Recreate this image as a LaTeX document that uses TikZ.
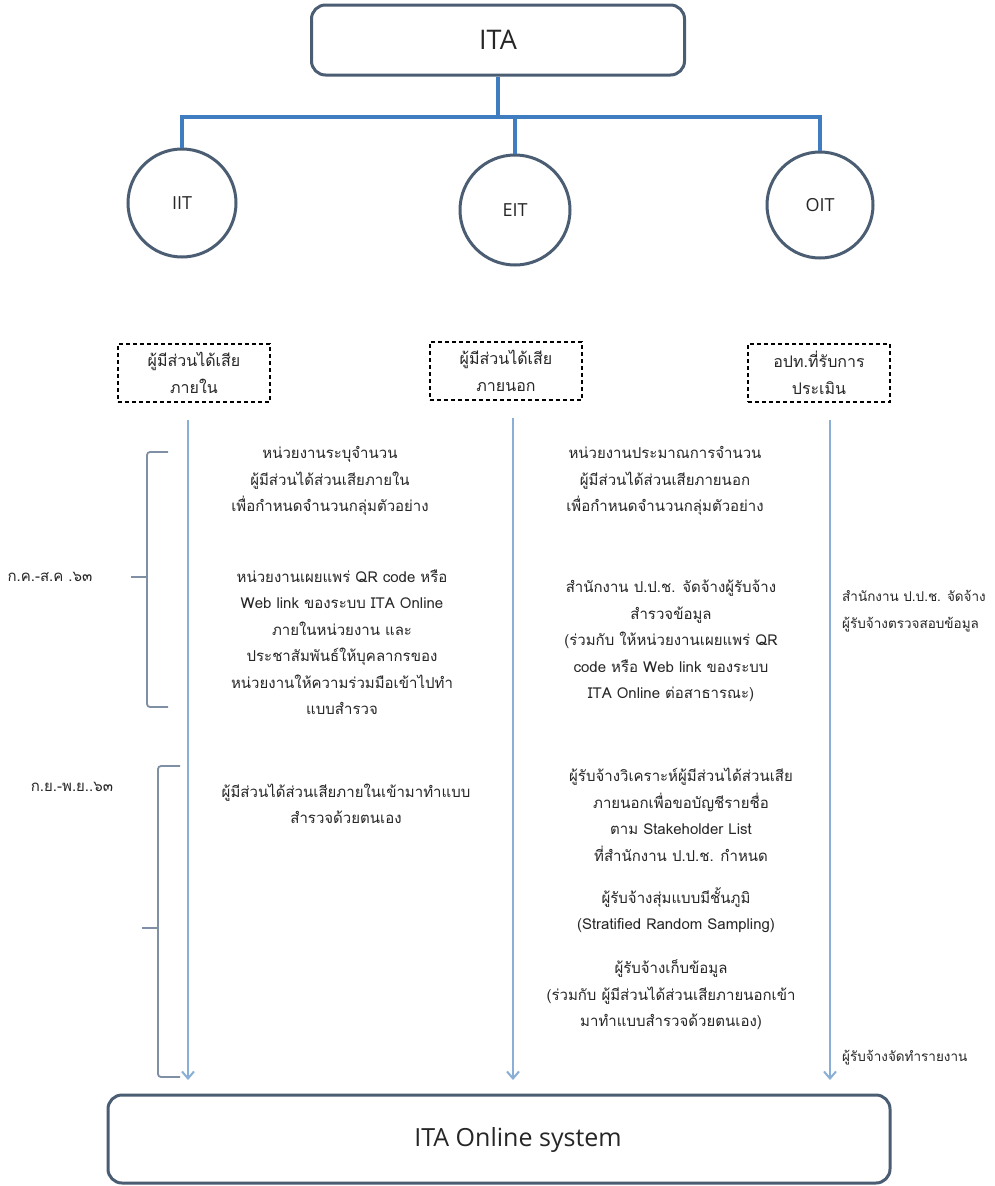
\documentclass[tikz,border=0pt]{standalone}
\usepackage{fontspec}
\setmainfont{Open Sans}
\newfontfamily\thaifont[Script=Thai]{Loma}
\usetikzlibrary{arrows.meta}
\definecolor{boxline}{HTML}{4A5D72}
\definecolor{treeblue}{HTML}{3F7DC0}
\definecolor{arrowblue}{HTML}{8AAFD6}
\definecolor{brk}{HTML}{7F90A4}
\definecolor{txt}{HTML}{262626}
\begin{document}
\begin{tikzpicture}[x=1pt,y=-1pt,
  mainbox/.style={draw=boxline, line width=3pt, rounded corners=14pt, text=txt, inner sep=0pt},
  circ/.style={circle, draw=boxline, line width=3pt, text=txt, inner sep=0pt, font=\fontsize{18}{20}\selectfont},
  tree/.style={draw=treeblue, line width=4.5pt},
  dbox/.style={draw=black, line width=1.3pt, dash pattern=on 4pt off 3pt, align=center, inner sep=0pt,
    font=\thaifont\fontsize{16}{27}\selectfont, text=txt},
  flow/.style={draw=arrowblue, line width=2pt, -{Straight Barb[length=7pt,width=12pt]}},
  brack/.style={draw=brk, line width=1.8pt, rounded corners=3pt},
  thtext/.style={align=center, inner sep=0pt, text=txt, font=\thaifont\fontsize{15}{26.5}\selectfont},
  thleft/.style={align=left, anchor=west, inner sep=0pt, text=txt, font=\thaifont\fontsize{13.5}{26.5}\selectfont}
]
\useasboundingbox[fill=white] (0,0) rectangle (995,1186);

% top box and tree
\node[mainbox, minimum width=373pt, minimum height=70pt, font=\fontsize{27}{30}\selectfont] (ita) at (498,40) {ITA};
\node[circ, minimum size=108pt] (iit) at (182,203) {IIT};
\node[circ, minimum size=110pt] (eit) at (515,210) {EIT};
\node[circ, minimum size=106pt] (oit) at (820,205) {OIT};
\coordinate (busm) at (498,117);
\coordinate (busl) at (182,117);
\coordinate (buse) at (515,117);
\coordinate (busr) at (820,117);
\draw[tree] (ita.south) -- (busm);
\draw[tree, line cap=rect] (busl) -- (busr);
\draw[tree] (busl) -- (iit.north);
\draw[tree] (buse) -- (eit.north);
\draw[tree] (busr) -- (oit.north);

% dashed boxes
\node[dbox, minimum width=152pt, minimum height=58pt] (d1) at (194,373) {ผู้มีส่วนได้เสีย\\ภายใน};
\node[dbox, minimum width=152pt, minimum height=58pt] (d2) at (506,371) {ผู้มีส่วนได้เสีย\\ภายนอก};
\node[dbox, minimum width=142pt, minimum height=58pt] (d3) at (819,373) {อปท.ที่รับการ\\ประเมิน};

% bottom box
\node[mainbox, minimum width=782pt, minimum height=88pt] (online) at (499,1139) {};
\node[text=txt, font=\fontsize{25}{28}\selectfont] (onlinelbl) at (518,1140) {ITA Online system};

% flows
\coordinate (f1s) at (188,420);
\coordinate (f1e) at (188,1080);
\coordinate (f2s) at (513,418);
\coordinate (f2e) at (513,1080);
\coordinate (f3s) at (830,420);
\coordinate (f3e) at (830,1080);
\draw[flow] (f1s) -- (f1e);
\draw[flow] (f2s) -- (f2e);
\draw[flow] (f3s) -- (f3e);

% brackets
\coordinate (b1t) at (168,452);
\coordinate (b1b) at (168,707);
\coordinate (b1m) at (131,577);
\draw[brack] (b1t) -- (147,452) -- (147,707) -- (b1b);
\draw[brack] (147,577) -- (b1m);
\coordinate (b2t) at (180,766);
\coordinate (b2b) at (180,1077);
\coordinate (b2m) at (142,928);
\draw[brack] (b2t) -- (158,766) -- (158,1077) -- (b2b);
\draw[brack] (158,928) -- (b2m);

\node[thtext] (per1) at (50,577) {ก.ค.-ส.ค .๖๓};
\node[thtext] (per2) at (72,787) {ก.ย.-พ.ย..๖๓};

% IIT column
\node[thtext] (i1) at (330,481) {หน่วยงานระบุจำนวน\\ผู้มีส่วนได้ส่วนเสียภายใน\\เพื่อกำหนดจำนวนกลุ่มตัวอย่าง};
\node[thtext] (i2) at (342,642) {หน่วยงานเผยแพร่ QR code หรือ\\Web link ของระบบ ITA Online\\ภายในหน่วยงาน และ\\ประชาสัมพันธ์ให้บุคลากรของ\\หน่วยงานให้ความร่วมมือเข้าไปทำ\\แบบสำรวจ};
\node[thtext] (i3) at (346,804) {ผู้มีส่วนได้ส่วนเสียภายในเข้ามาทำแบบ\\สำรวจด้วยตนเอง};

% EIT column
\node[thtext] (e1) at (665,481) {หน่วยงานประมาณการจำนวน\\ผู้มีส่วนได้ส่วนเสียภายนอก\\เพื่อกำหนดจำนวนกลุ่มตัวอย่าง};
\node[thtext] (e2) at (671,641) {สำนักงาน ป.ป.ช. จัดจ้างผู้รับจ้าง\\สำรวจข้อมูล\\(ร่วมกับ ให้หน่วยงานเผยแพร่ QR\\code หรือ Web link ของระบบ\\ITA Online ต่อสาธารณะ)};
\node[thtext] (e3) at (681,815) {ผู้รับจ้างวิเคราะห์ผู้มีส่วนได้ส่วนเสีย\\ภายนอกเพื่อขอบัญชีรายชื่อ\\ตาม Stakeholder List\\ที่สำนักงาน ป.ป.ช. กำหนด};
\node[thtext] (e4) at (676,910) {ผู้รับจ้างสุ่มแบบมีชั้นภูมิ\\(Stratified Random Sampling)};
\node[thtext] (e5) at (671,995) {ผู้รับจ้างเก็บข้อมูล\\(ร่วมกับ ผู้มีส่วนได้ส่วนเสียภายนอกเข้า\\มาทำแบบสำรวจด้วยตนเอง)};

% OIT column
\node[thleft] (o1) at (842,611) {สำนักงาน ป.ป.ช. จัดจ้าง\\ผู้รับจ้างตรวจสอบข้อมูล};
\node[thleft] (o2) at (842,1058) {ผู้รับจ้างจัดทำรายงาน};
\end{tikzpicture}
\end{document}
